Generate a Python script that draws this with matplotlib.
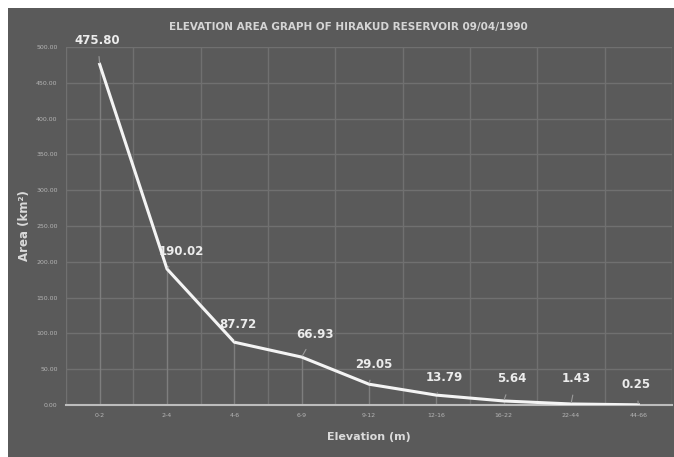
import matplotlib
matplotlib.use('Agg')
import matplotlib.pyplot as plt
from matplotlib.patches import Rectangle

# data
elevation = ['0-2', '2-4', '4-6', '6-9', '9-12', '12-16', '16-22', '22-44', '44-66']
area = [475.80, 190.02, 87.72, 66.93, 29.05, 13.79, 5.64, 1.43, 0.25]
# label offsets in pixels (dx, dy) from each point
label_dx = [-2, 14, 4, 13, 5, 8, 8, 5, -2]
label_dy = [24, 17, 18, 23, 20, 18, 22, 25, 20]
yticks = [0, 50, 100, 150, 200, 250, 300, 350, 400, 450, 500]

W, H = 674, 457
bg = '#5a5a5a'
grid_c = '#707070'
fig = plt.figure(figsize=(W / 100, H / 100), dpi=100)
fig.patch.set_facecolor('white')
fig.patches.append(Rectangle((8 / W, 0), 1, 1 - 8 / H, transform=fig.transFigure,
                             facecolor=bg, edgecolor='none', zorder=-10))

ax = fig.add_axes([66 / W, 1 - 405 / H, 606 / W, 358 / H])
ax.set_facecolor(bg)

x = list(range(len(elevation)))
ax.set_xlim(-0.5, len(elevation) - 0.5)
ax.set_ylim(0, 500)

# gridlines: horizontal at ticks, vertical at category boundaries
for v in yticks[1:]:
    ax.axhline(v, color=grid_c, lw=1.0, zorder=1)
for b in range(len(elevation) + 1):
    ax.axvline(b - 0.5, color=grid_c, lw=1.0, zorder=1)

# drop lines
ax.vlines(x, 0, area, color='#7e7e7e', lw=1.0, zorder=2)

ax.plot(x, area, color='#f4f4f4', lw=2.2, zorder=4, solid_joinstyle='round')

for i, v in enumerate(area):
    ax.annotate(f'{v:.2f}', xy=(i, v), xytext=(label_dx[i], label_dy[i]),
                textcoords='offset pixels', ha='center', va='center',
                fontsize=8.5, fontweight='bold', color='#ececec',
                arrowprops=dict(arrowstyle='-', color='#9a9a9a', lw=0.8,
                                shrinkA=5, shrinkB=1),
                zorder=5)

ax.set_xticks(x)
ax.set_xticklabels(elevation)
ax.set_yticks(yticks)
ax.set_yticklabels([f'{v:.2f}' for v in yticks])
ax.tick_params(axis='both', length=0, labelsize=4.5, colors='#b5b5b5')
ax.tick_params(axis='x', pad=6)
ax.tick_params(axis='y', pad=6)

for s in ['top', 'right', 'left']:
    ax.spines[s].set_visible(False)
ax.spines['bottom'].set_color('#bdbdbd')
ax.spines['bottom'].set_linewidth(1.5)

ax.set_xlabel('Elevation (m)', fontsize=8, fontweight='bold', color='#dadada', labelpad=10)
ax.set_ylabel('Area (km²)', fontsize=8.5, fontweight='bold', color='#dadada', labelpad=4)

fig.text(348 / W, 1 - 27 / H, 'ELEVATION AREA GRAPH OF HIRAKUD RESERVOIR 09/04/1990',
         ha='center', va='center', fontsize=7.5, fontweight='bold', color='#d5d5d5')

plt.savefig('out.png', dpi=100)
